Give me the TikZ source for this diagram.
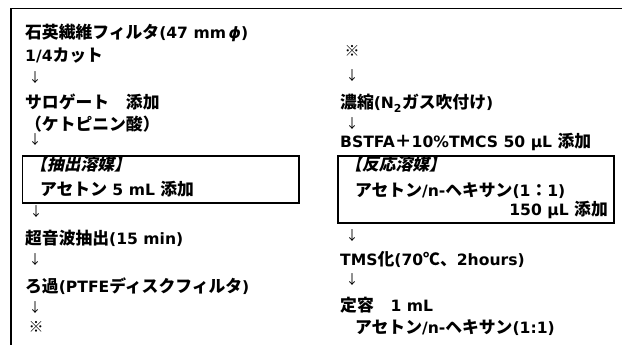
\documentclass[tikz,border=0pt]{standalone}
\usepackage{fontspec}
\setmainfont{Noto Sans CJK JP}
\newfontfamily\jpsl{Noto Sans CJK JP}[FakeSlant=0.22]
\newfontfamily\latfont{DejaVu Sans}
\newcommand\lat[1]{{\fontsize{15.6}{19}\latfont\bfseries #1}}
\begin{document}
\begin{tikzpicture}[x=1pt,y=-1pt,
  txt/.style={anchor=base west, inner sep=0pt, font=\fontsize{16.8}{19}\selectfont\bfseries},
  txtr/.style={anchor=base east, inner sep=0pt, font=\fontsize{16.8}{19}\selectfont\bfseries},
  slt/.style={anchor=base west, inner sep=0pt, font=\fontsize{16.8}{19}\selectfont\jpsl\bfseries},
  arr/.style={anchor=center, inner sep=0pt, font=\fontsize{13}{15}\selectfont},
  refmark/.style={anchor=center, inner sep=0pt, font=\fontsize{15}{17}\selectfont},
  box/.style={draw, line width=1.9pt, anchor=north west, inner sep=0pt},
  frame/.style={line width=1.6pt}]
\useasboundingbox (0,0) rectangle (622,345);
\draw[frame] (11,345) -- (11,8.5) -- (622,8.5);
% left column
\node[txt] (l1) at (25,38.5) {石英繊維フィルタ\lat{(47 mm\,{\itshape ϕ})}};
\node[txt] (l2) at (25,62) {\lat{1/4}カット};
\node[arr] (a1) at (35,78) {↓};
\node[txt] (l3) at (25,109) {サロゲート　添加};
\node[txt] (l4) at (25,131) {（ケトピニン酸）};
\node[arr] (a2) at (35,140) {↓};
\node[box, minimum width=276.5pt, minimum height=47pt] (b1) at (21.5,155) {};
\node[slt] (l5) at (30,171) {【抽出溶媒】};
\node[txt] (l6) at (40,195) {アセトン\lat{ 5 mL }添加};
\node[arr] (a3) at (36,212) {↓};
\node[txt] (l7) at (25,244) {超音波抽出\lat{(15 min)}};
\node[arr] (a4) at (35,260) {↓};
\node[txt] (l8) at (25,292) {ろ過\lat{(PTFE}ディスクフィルタ\lat{)}};
\node[arr] (a5) at (35,308) {↓};
\node[refmark] (m1) at (36,327) {※};
% right column
\node[refmark] (m2) at (352,51) {※};
\node[arr] (a6) at (352,76) {↓};
\node[txt] (r1) at (340,109) {濃縮\lat{(N\textsubscript{2}}ガス吹付け\lat{)}};
\node[arr] (a7) at (352,124) {↓};
\node[txt] (r2) at (340,147) {\lat{BSTFA}＋\lat{10\%TMCS 50 µL }添加};
\node[box, minimum width=276pt, minimum height=67pt] (b2) at (336.7,155) {};
\node[slt] (r3) at (345,171) {【反応溶媒】};
\node[txt] (r4) at (355,196) {アセトン\lat{/n-}ヘキサン\lat{(1}：\lat{1)}};
\node[txtr] (r5) at (608,215) {\lat{150 µL }添加};
\node[arr] (a8) at (352,236) {↓};
\node[txt] (r6) at (340,265) {\lat{TMS}化\lat{(70}℃、\lat{2hours)}};
\node[arr] (a9) at (352,280) {↓};
\node[txt] (r7) at (340,311) {定容　\lat{1 mL}};
\node[txt] (r8) at (355,333) {アセトン\lat{/n-}ヘキサン\lat{(1:1)}};
\end{tikzpicture}
\end{document}
